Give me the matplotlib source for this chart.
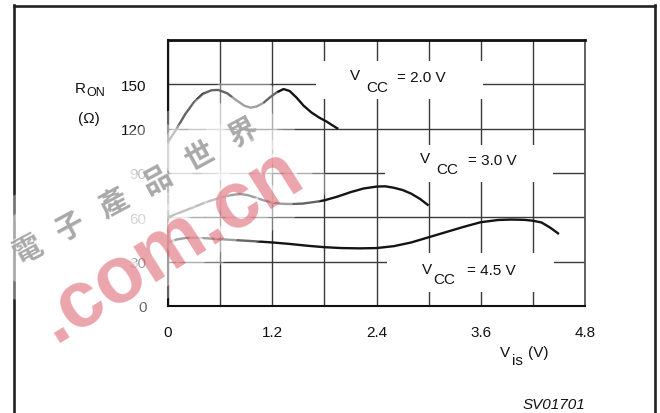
import matplotlib
matplotlib.use('Agg')
import matplotlib.pyplot as plt
from matplotlib.lines import Line2D
from matplotlib.patches import Rectangle
import matplotlib.patheffects as pe

plt.rcParams['font.family'] = ['Liberation Sans', 'DejaVu Sans']

# ---------------- data ----------------
vcc20_x = [0.0, 0.1, 0.2, 0.3, 0.4, 0.5, 0.58, 0.68, 0.78, 0.88, 0.95, 1.02,
           1.1, 1.18, 1.25, 1.33, 1.4, 1.48, 1.56, 1.65, 1.74, 1.82, 1.9, 1.96]
vcc20_r = [111, 120, 130, 138, 143.5, 146, 146.2, 144, 139.5, 135.5, 134.2, 135,
           137.5, 141.5, 144.5, 146.8, 145.5, 141, 135.6, 131, 127.5, 125, 122, 119.8]

vcc30_x = [0.0, 0.15, 0.3, 0.45, 0.6, 0.72, 0.83, 0.92, 1.0, 1.1, 1.2, 1.3, 1.4,
           1.55, 1.7, 1.8, 1.95, 2.1, 2.25, 2.4, 2.5, 2.6, 2.7, 2.8, 2.9, 3.0]
vcc30_r = [60, 63.5, 67, 70.5, 73.3, 75, 75.8, 75, 73.5, 71.5, 70, 69.2, 69,
           69.3, 70.5, 71.5, 74, 77, 79.5, 80.8, 81, 80, 78.5, 76, 72.5, 68]

vcc45_x = [0.0, 0.1, 0.2, 0.3, 0.45, 0.6, 0.8, 1.0, 1.2, 1.4, 1.6, 1.8, 2.0, 2.2,
           2.4, 2.6, 2.8, 3.0, 3.2, 3.4, 3.6, 3.8, 3.95, 4.1, 4.2, 4.3, 4.4, 4.5]
vcc45_r = [43, 45, 46, 46.2, 45.8, 45.2, 44.5, 43.8, 43, 42, 40.8, 39.8, 39.2, 39,
           39.2, 40.5, 43, 46.5, 50, 53.5, 56.7, 58.2, 58.5, 58.3, 57.7, 56.5, 53, 48.7]

x_ticks = [0, 0.6, 1.2, 1.8, 2.4, 3.0, 3.6, 4.2, 4.8]
x_labels = ['0', '', '1.2', '', '2.4', '', '3.6', '', '4.8']
y_ticks = [0, 30, 60, 90, 120, 150, 180]
y_labels = ['0', '30', '60', '90', '120', '150', '']

curve_labels = ['2.0 V', '3.0 V', '4.5 V']
watermark_cn = '電子產品世界'
watermark_en = '.com.cn'

# ---------------- layout helpers (pixel -> figure fraction) ----------------
W, H = 660, 414
fig = plt.figure(figsize=(W / 100, H / 100), dpi=100)
fig.patch.set_facecolor('white')


def fx(px):
    return px / W


def fy(py):
    return 1 - py / H


ax = fig.add_axes([fx(168), fy(307), fx(585) - fx(168), fy(41) - fy(307)])
ax.set_xlim(0, 4.8)
ax.set_ylim(0, 180)
ax.set_xticks(x_ticks)
ax.set_xticklabels(x_labels)
ax.set_yticks(y_ticks)
ax.set_yticklabels(y_labels)
ax.tick_params(length=0, labelsize=11, labelcolor='#111111')
ax.tick_params(axis='x', pad=13.5)
ax.tick_params(axis='y', pad=15.5)
ax.grid(True, color='#3a3a3a', lw=1.0)
ax.set_axisbelow(True)
ax.spines['top'].set_linewidth(2.0)
ax.spines['top'].set_color('#111111')
ax.spines['left'].set_linewidth(1.5)
ax.spines['left'].set_color('#111111')
ax.spines['bottom'].set_linewidth(1.5)
ax.spines['bottom'].set_color('#111111')
ax.spines['right'].set_linewidth(1.3)
ax.spines['right'].set_color('#555555')

# white boxes behind the Vcc labels (interrupt the grid)
for (x0, y0, w, h) in [(1.70, 140.1, 1.93, 25.7),
                       (2.50, 83.9, 1.93, 25.0),
                       (2.52, 9.5, 1.92, 26.4)]:
    ax.add_patch(Rectangle((x0, y0), w, h, facecolor='white', edgecolor='none',
                           zorder=1.5))

for xs, ys in [(vcc20_x, vcc20_r), (vcc30_x, vcc30_r), (vcc45_x, vcc45_r)]:
    ax.plot(xs, ys, color='#141414', lw=1.7, zorder=3, solid_capstyle='butt')

# Vcc labels
lab_pos = [((350, 80), (366, 92), (397, 82)),
           ((420, 163), (436, 174), (468, 165)),
           ((422, 274), (433, 284), (467, 275))]
for lbl, (pv, pc, pe_) in zip(curve_labels, lab_pos):
    fig.text(fx(pv[0]), fy(pv[1]), 'V', fontsize=11, va='baseline', ha='left', color='#111')
    fig.text(fx(pc[0]), fy(pc[1]), 'CC', fontsize=11, va='baseline', ha='left', color='#111')
    fig.text(fx(pe_[0]), fy(pe_[1]), '= ' + lbl, fontsize=11, va='baseline', ha='left', color='#111')

# axis labels
fig.text(fx(75), fy(93), 'R', fontsize=11, va='baseline', ha='left', color='#111')
fig.text(fx(86), fy(96), 'ON', fontsize=9, va='baseline', ha='left', color='#111')
fig.text(fx(78), fy(123), '(\u03a9)', fontsize=11, va='baseline', ha='left', color='#111')
fig.text(fx(500), fy(357), 'V', fontsize=11, va='baseline', ha='left', color='#111')
fig.text(fx(512), fy(365), 'is', fontsize=11, va='baseline', ha='left', color='#111')
fig.text(fx(528), fy(357), '(V)', fontsize=11, va='baseline', ha='left', color='#111')
fig.text(fx(523), fy(409), 'SV01701', fontsize=11, va='baseline', ha='left',
         style='italic', color='#111')

# outer frame (open at the bottom)
fc = '#222222'
fig.add_artist(Line2D([fx(13.5), fx(13.5)], [fy(6), fy(420)], color=fc, lw=1.9))
fig.add_artist(Line2D([fx(13.5), fx(655)], [fy(6.5), fy(6.5)], color=fc, lw=1.9))
fig.add_artist(Line2D([fx(655), fx(655)], [fy(6), fy(420)], color=fc, lw=1.9))


# watermark: white halo layer, then the coloured glyphs
def wm_text(x, y, s, size, color, alpha, rot, halo_w, family=None, z=10):
    kw = dict(fontsize=size, weight='bold', rotation=rot, rotation_mode='anchor',
              ha='center', va='center')
    if family:
        kw['family'] = family
    h = fig.text(fx(x), fy(y), s, color='white', alpha=0.0, zorder=z, **kw)
    h.set_path_effects([pe.Stroke(linewidth=halo_w, foreground='white', alpha=0.35),
                        pe.Stroke(linewidth=halo_w * 0.55, foreground='white', alpha=0.38)])
    fig.text(fx(x), fy(y), s, color=color, alpha=alpha, zorder=z + 1, **kw)


cx0, cy0, dx, dy = 27, 250, 43.2, -23.4
for i, ch in enumerate(watermark_cn):
    wm_text(cx0 + i * dx, cy0 + i * dy, ch, 21, '#a4a4a4', 0.95, 28.4, 56,
            family=['Noto Sans CJK TC'], z=10)

wm_text(170.5, 245.5, watermark_en, 57, '#d84a5a', 0.5, 32.5, 34, z=12)

fig.savefig('out.png', dpi=100, facecolor='white')
